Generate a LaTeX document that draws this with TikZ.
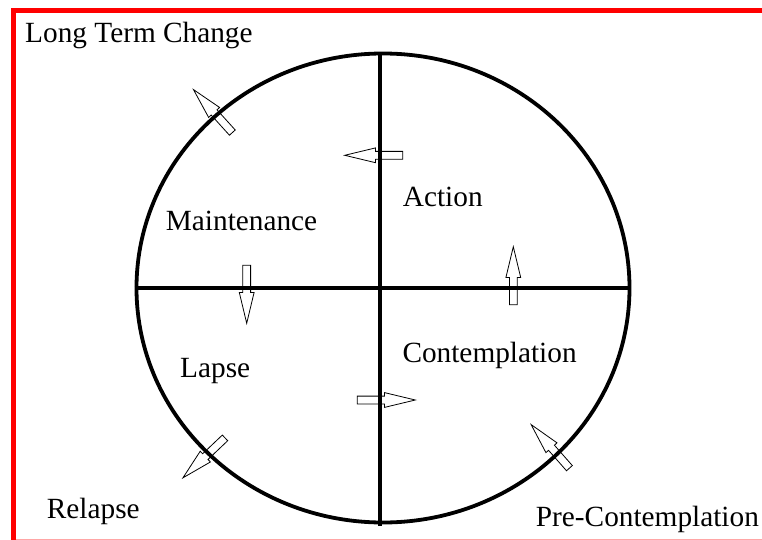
\documentclass[tikz,border=0pt]{standalone}
\usepackage{fontspec}
\setmainfont{Liberation Serif}
\usetikzlibrary{shapes.geometric,shapes.arrows}
\begin{document}
\begin{tikzpicture}[x=1pt,y=-1pt,
  lbl/.style={inner sep=0pt, anchor=base west, font=\fontsize{29.3}{34}\selectfont},
  flow/.style={single arrow, draw=black, line width=0.8pt, fill=none,
    minimum height=58pt, minimum width=14pt, single arrow head extend=3.5pt,
    single arrow tip angle=27, inner xsep=0pt, inner ysep=3.5pt, anchor=tip},
  axis/.style={line width=4.5pt, line cap=butt}]
\useasboundingbox (0,0) rectangle (762,540);
% frame
\draw[red, line width=5pt] (775,10.2) -- (13.5,10.2) -- (13.5,550);
\draw[red!35, line width=0.8pt] (16,539.4) -- (762,539.4);

% the cycle and its two diameters
\node[ellipse, draw, line width=3.8pt, minimum width=493pt, minimum height=469pt, inner sep=0pt]
  (ring) at (383,288) {};
\coordinate (top) at (380,53);
\coordinate (bottom) at (380,526);
\draw[axis] (ring.west) -- (ring.east);
\draw[axis] (top) -- (bottom);

% stage labels
\node[lbl] (ltc) at (25,43) {Long Term Change};
\node[lbl] (maint) at (165.7,230) {Maintenance};
\node[lbl] (action) at (402.7,206.7) {Action};
\node[lbl] (lapse) at (180,377) {Lapse};
\node[lbl] (contemp) at (402.3,362.3) {Contemplation};
\node[lbl] (relapse) at (46.7,518.3) {Relapse};
\node[lbl] (precon) at (535.7,526.7) {Pre-Contemplation};

% transition arrows
\node[flow, rotate=180] (a1) at (343,155.3) {};
\node[flow, rotate=90] (a2) at (513.3,245) {};
\node[flow, rotate=0] (a3) at (417,400) {};
\node[flow, rotate=-90] (a4) at (246.7,325) {};
\node[flow, rotate=132.1] (a5) at (192.3,88.3) {};
\node[flow, rotate=223.5] (a6) at (181.7,479) {};
\node[flow, rotate=131.3] (a7) at (530,423.3) {};
\end{tikzpicture}
\end{document}
